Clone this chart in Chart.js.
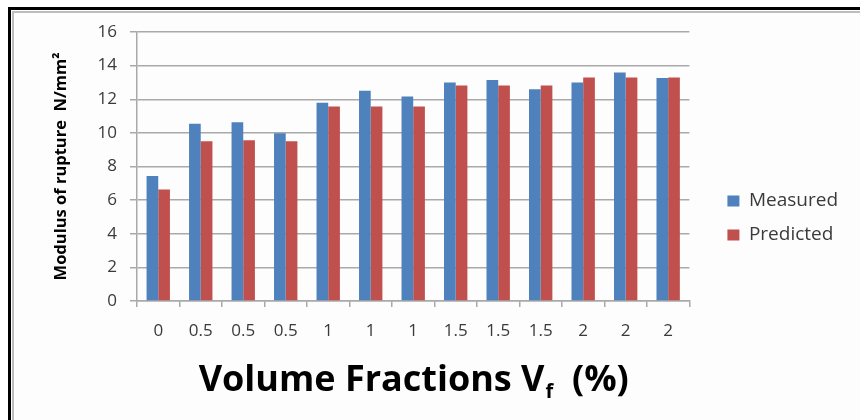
<!DOCTYPE html>
<html>
<head>
<meta charset="utf-8">
<script src="https://cdn.jsdelivr.net/npm/chart.js@4.4.1/dist/chart.umd.min.js"></script>
<style>
  html, body { margin: 0; padding: 0; background: #ffffff; }
  #stage { position: relative; width: 860px; height: 420px; overflow: hidden; }
  #frameOuter { position: absolute; left: 8px; top: 7px; right: 0; bottom: 0;
    border-left: 3px solid #000; border-top: 3px solid #000; }
  #frameInner { position: absolute; left: 12px; top: 11px; right: 0; bottom: 0;
    border-left: 2px solid #bdbdbd; border-top: 2px solid #bdbdbd; background: #fdfdfd; }
  #chart { position: absolute; left: 0; top: 0; }
</style>
</head>
<body>
<div id="stage">
  <div id="frameOuter"></div>
  <div id="frameInner"></div>
  <canvas id="chart" width="860" height="420"></canvas>
</div>
<script>
// Volume fraction of each specimen group (%)
const categories = ['0', '0.5', '0.5', '0.5', '1', '1', '1', '1.5', '1.5', '1.5', '2', '2', '2'];
// Modulus of rupture, N/mm²
const measured  = [7.44, 10.54, 10.63, 9.98, 11.79, 12.50, 12.16, 13.00, 13.15, 12.60, 13.00, 13.59, 13.26];
const predicted = [6.63, 9.50, 9.56, 9.50, 11.57, 11.57, 11.57, 12.82, 12.82, 12.82, 13.30, 13.30, 13.30];
const yTicks = [0, 2, 4, 6, 8, 10, 12, 14, 16];

const FONT = "'Open Sans', 'DejaVu Sans', sans-serif";
const GRID = '#a9a9a9';
const TEXT = '#3a3a3a';

// X-axis title with a subscripted "f"
const xTitlePlugin = {
  id: 'xTitle',
  afterDraw(chart) {
    const ctx = chart.ctx;
    const area = chart.chartArea;
    const big = "bold 36px " + FONT;
    const small = "bold 20px " + FONT;
    const partA = 'Volume Fractions V';
    const partB = 'f';
    const partC = '  (%)';
    ctx.save();
    ctx.fillStyle = '#000';
    ctx.textBaseline = 'alphabetic';
    ctx.font = big;
    const wA = ctx.measureText(partA).width;
    const wC = ctx.measureText(partC).width;
    ctx.font = small;
    const wB = ctx.measureText(partB).width;
    const total = wA + wB + wC;
    let x = (area.left + area.right) / 2 - total / 2;
    const base = 391;
    ctx.font = big;
    ctx.fillText(partA, x, base);
    x += wA + 1;
    ctx.font = small;
    ctx.fillText(partB, x, base + 7);
    x += wB;
    ctx.font = big;
    ctx.fillText(partC, x, base);
    ctx.restore();
  }
};

new Chart(document.getElementById('chart'), {
  type: 'bar',
  data: {
    labels: categories,
    datasets: [
      { label: 'Measured', data: measured, backgroundColor: '#4f81bd', borderWidth: 0 },
      { label: 'Predicted', data: predicted, backgroundColor: '#c0504d', borderWidth: 0 }
    ]
  },
  options: {
    responsive: false,
    animation: false,
    devicePixelRatio: 1,
    layout: { padding: { left: 0, top: 32, right: 12, bottom: 16 } },
    datasets: { bar: { categoryPercentage: 0.55, barPercentage: 1.0 } },
    plugins: {
      tooltip: { enabled: false },
      legend: {
        position: 'right',
        align: 'center',
        labels: {
          boxWidth: 12,
          boxHeight: 11,
          padding: 15,
          color: TEXT,
          font: { family: FONT, size: 19 }
        }
      }
    },
    scales: {
      x: {
        afterFit(scale) { scale.height = 103; },
        grid: { display: true, drawOnChartArea: false, drawTicks: true, tickLength: 6, color: GRID, lineWidth: 1.5 },
        border: { display: true, color: GRID, width: 1.5 },
        ticks: { color: TEXT, padding: 14, font: { family: FONT, size: 17 }, maxRotation: 0, autoSkip: false }
      },
      y: {
        min: 0,
        max: 16,
        afterFit(scale) { scale.width = 137; },
        afterBuildTicks(scale) { scale.ticks = yTicks.map(v => ({ value: v })); },
        grid: { color: GRID, lineWidth: 1.5, tickLength: 7 },
        border: { display: true, color: GRID, width: 1.5 },
        ticks: { color: TEXT, padding: 13, font: { family: FONT, size: 17 } },
        title: {
          display: true,
          text: 'Modulus of rupture  N/mm²',
          color: '#000',
          font: { family: FONT, size: 16.5, weight: 'bold' },
          padding: { top: 51, bottom: 0 }
        }
      },
      spacer: {
        position: 'right',
        display: true,
        afterFit(scale) { scale.width = 23; },
        grid: { display: false },
        border: { display: false },
        ticks: { display: false }
      }
    }
  },
  plugins: [xTitlePlugin]
});
</script>
</body>
</html>
